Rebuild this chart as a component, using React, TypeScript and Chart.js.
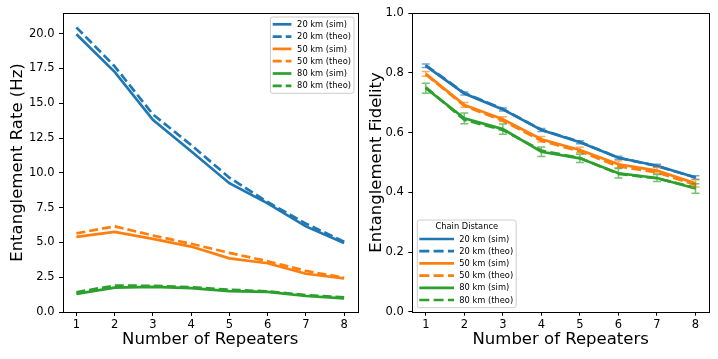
import React, { useEffect, useRef } from 'react';
import { Chart, registerables } from 'chart.js';

Chart.register(...registerables);

// ---------------- data ----------------
const REPEATERS = [1, 2, 3, 4, 5, 6, 7, 8];
const X_TICK_LABELS = ['1', '2', '3', '4', '5', '6', '7', '8'];

const RATE_20_SIM = [19.95, 17.25, 13.8, 11.55, 9.25, 7.8, 6.15, 4.95];
const RATE_20_THEO = [20.45, 17.65, 14.2, 12.0, 9.65, 7.9, 6.35, 5.05];
const RATE_50_SIM = [5.4, 5.75, 5.25, 4.7, 3.85, 3.5, 2.75, 2.42];
const RATE_50_THEO = [5.65, 6.15, 5.5, 4.9, 4.25, 3.65, 2.95, 2.47];
const RATE_80_SIM = [1.3, 1.75, 1.8, 1.72, 1.5, 1.45, 1.15, 0.98];
const RATE_80_THEO = [1.42, 1.9, 1.88, 1.78, 1.6, 1.48, 1.22, 1.05];

const FID_20_SIM = [0.824, 0.731, 0.678, 0.609, 0.568, 0.516, 0.489, 0.45];
const FID_20_THEO = [0.826, 0.733, 0.679, 0.61, 0.569, 0.516, 0.488, 0.45];
const FID_50_SIM = [0.797, 0.693, 0.645, 0.578, 0.542, 0.494, 0.473, 0.43];
const FID_50_THEO = [0.795, 0.69, 0.64, 0.573, 0.537, 0.487, 0.467, 0.425];
const FID_80_SIM = [0.749, 0.648, 0.612, 0.536, 0.514, 0.464, 0.448, 0.413];
const FID_80_THEO = [0.752, 0.643, 0.609, 0.54, 0.515, 0.462, 0.447, 0.415];

const FID_20_ERR = [0.006, 0.005, 0.005, 0.005, 0.005, 0.005, 0.005, 0.006];
const FID_50_ERR = [0.008, 0.008, 0.008, 0.009, 0.009, 0.012, 0.01, 0.012];
const FID_80_ERR = [0.017, 0.018, 0.017, 0.016, 0.014, 0.016, 0.012, 0.016];

const RATE_Y_TICKS = [0, 2.5, 5, 7.5, 10, 12.5, 15, 17.5, 20];
const RATE_Y_LABELS = ['0.0', '2.5', '5.0', '7.5', '10.0', '12.5', '15.0', '17.5', '20.0'];
const FID_Y_TICKS = [0, 0.2, 0.4, 0.6, 0.8, 1.0];
const FID_Y_LABELS = ['0.0', '0.2', '0.4', '0.6', '0.8', '1.0'];

const SERIES_LABELS = ['20 km (sim)', '20 km (theo)', '50 km (sim)', '50 km (theo)', '80 km (sim)', '80 km (theo)'];
const LEGEND_TITLE_RIGHT = 'Chain Distance';

// ---------------- styles ----------------
const FONT = 'DejaVu Sans';
const BLUE = '#1f77b4';
const ORANGE = '#ff7f0e';
const GREEN = '#2ca02c';
const SERIES_COLORS = [BLUE, BLUE, ORANGE, ORANGE, GREEN, GREEN];
const LINE_W = 2.7;

type LegendCfg = {
  corner: 'tr' | 'bl';
  marginX: number;
  marginY: number;
  title?: string;
  titleY?: number;
  firstRow: number;
  rowH: number;
  padB: number;
  lineX0: number;
  lineX1: number;
  textX: number;
  padR: number;
  dash: number[];
  fontSize: number;
};

function pts(ys: number[]) {
  return REPEATERS.map((x, i) => ({ x, y: ys[i] }));
}

function makeDatasets(series: number[][], errors?: (number[] | null)[], dash: number[] = [9, 4]) {
  return series.map((ys, i) => ({
    label: SERIES_LABELS[i],
    data: pts(ys),
    borderColor: SERIES_COLORS[i],
    backgroundColor: SERIES_COLORS[i],
    borderWidth: LINE_W,
    borderDash: i % 2 === 1 ? dash : [],
    pointRadius: 0,
    tension: 0,
    fill: false,
    order: series.length - i,
    errors: errors ? errors[i] : null,
  }));
}

const errorBarPlugin = {
  id: 'errorBars',
  afterDatasetsDraw(chart: any) {
    const ctx = chart.ctx;
    const xs = chart.scales.x;
    const ys = chart.scales.y;
    chart.data.datasets.forEach((ds: any) => {
      if (!ds.errors) return;
      ctx.save();
      ctx.strokeStyle = ds.borderColor;
      ctx.globalAlpha = 0.65;
      ctx.lineWidth = 1.5;
      ds.data.forEach((p: any, j: number) => {
        const e = ds.errors[j];
        const x = xs.getPixelForValue(p.x);
        const y1 = ys.getPixelForValue(p.y - e);
        const y2 = ys.getPixelForValue(p.y + e);
        ctx.beginPath();
        ctx.moveTo(x, y1);
        ctx.lineTo(x, y2);
        ctx.moveTo(x - 4, y1);
        ctx.lineTo(x + 4, y1);
        ctx.moveTo(x - 4, y2);
        ctx.lineTo(x + 4, y2);
        ctx.stroke();
      });
      ctx.restore();
    });
  },
};

const framePlugin = {
  id: 'frame',
  afterDatasetsDraw(chart: any) {
    const { ctx, chartArea } = chart;
    ctx.save();
    ctx.strokeStyle = '#000';
    ctx.lineWidth = 1;
    ctx.strokeRect(
      Math.round(chartArea.left) + 0.5,
      Math.round(chartArea.top) + 0.5,
      Math.round(chartArea.right) - Math.round(chartArea.left),
      Math.round(chartArea.bottom) - Math.round(chartArea.top)
    );
    ctx.restore();
  },
};

function makeLegendPlugin(cfg: LegendCfg) {
  return {
    id: 'customLegend',
    afterDraw(chart: any) {
      const { ctx, chartArea } = chart;
      const items = chart.data.datasets;
      ctx.save();
      ctx.font = `${cfg.fontSize}px "${FONT}"`;
      let textW = 0;
      items.forEach((d: any) => {
        textW = Math.max(textW, ctx.measureText(d.label).width);
      });
      const w = cfg.textX + textW + cfg.padR;
      const h = cfg.firstRow + (items.length - 1) * cfg.rowH + cfg.padB;
      let left: number;
      let top: number;
      if (cfg.corner === 'tr') {
        left = chartArea.right - cfg.marginX - w;
        top = chartArea.top + cfg.marginY;
      } else {
        left = chartArea.left + cfg.marginX;
        top = chartArea.bottom - cfg.marginY - h;
      }
      ctx.beginPath();
      if ((ctx as any).roundRect) (ctx as any).roundRect(left, top, w, h, 2.5);
      else ctx.rect(left, top, w, h);
      ctx.fillStyle = 'rgba(255,255,255,0.8)';
      ctx.fill();
      ctx.strokeStyle = '#cccccc';
      ctx.lineWidth = 1;
      ctx.stroke();

      ctx.fillStyle = '#000';
      ctx.textBaseline = 'middle';
      if (cfg.title) {
        ctx.textAlign = 'center';
        ctx.fillText(cfg.title, left + w / 2, top + (cfg.titleY || 0));
      }
      ctx.textAlign = 'left';
      items.forEach((d: any, i: number) => {
        const y = top + cfg.firstRow + i * cfg.rowH;
        ctx.save();
        ctx.strokeStyle = d.borderColor;
        ctx.lineWidth = LINE_W;
        ctx.setLineDash(i % 2 === 1 ? cfg.dash : []);
        ctx.beginPath();
        ctx.moveTo(left + cfg.lineX0, y);
        ctx.lineTo(left + cfg.lineX1, y);
        ctx.stroke();
        ctx.restore();
        ctx.fillStyle = '#000';
        ctx.fillText(d.label, left + cfg.textX, y + 0.5);
      });
      ctx.restore();
    },
  };
}

function baseOptions(opts: {
  padTop: number;
  padRight: number;
  yWidth: number;
  xHeight: number;
  yMin: number;
  yMax: number;
  yTicks: number[];
  yLabels: string[];
  yTitle: string;
  yTitlePad: number;
}) {
  const tickFont = { family: FONT, size: 11.5 };
  const titleFont = { family: FONT, size: 16.5 };
  return {
    responsive: false,
    animation: false,
    devicePixelRatio: 1,
    layout: { padding: { top: opts.padTop, right: opts.padRight, left: 0, bottom: 0 } },
    plugins: { legend: { display: false }, tooltip: { enabled: false } },
    scales: {
      x: {
        type: 'linear',
        min: 0.65,
        max: 8.35,
        afterBuildTicks: (s: any) => {
          s.ticks = REPEATERS.map((v) => ({ value: v }));
        },
        afterFit: (s: any) => {
          s.height = opts.xHeight;
          s.paddingLeft = 0;
          s.paddingRight = 0;
        },
        ticks: {
          font: tickFont,
          color: '#000',
          padding: 2,
          maxRotation: 0,
          autoSkip: false,
          callback: (v: number) => X_TICK_LABELS[REPEATERS.indexOf(v)] ?? '',
        },
        grid: { display: true, drawOnChartArea: false, drawTicks: true, tickLength: 4, color: '#000', lineWidth: 1 },
        border: { display: false },
        title: { display: true, text: 'Number of Repeaters', font: titleFont, color: '#000', padding: { top: 0, bottom: 9 } },
      },
      y: {
        type: 'linear',
        min: opts.yMin,
        max: opts.yMax,
        afterBuildTicks: (s: any) => {
          s.ticks = opts.yTicks.map((v) => ({ value: v }));
        },
        afterFit: (s: any) => {
          s.width = opts.yWidth;
          s.paddingTop = 0;
          s.paddingBottom = 0;
        },
        ticks: {
          font: tickFont,
          color: '#000',
          padding: 4.5,
          autoSkip: false,
          callback: (v: number) => {
            const idx = opts.yTicks.findIndex((t) => Math.abs(t - v) < 1e-9);
            return idx >= 0 ? opts.yLabels[idx] : '';
          },
        },
        grid: { display: true, drawOnChartArea: false, drawTicks: true, tickLength: 4, color: '#000', lineWidth: 1 },
        border: { display: false },
        title: { display: true, text: opts.yTitle, font: titleFont, color: '#000', padding: { top: opts.yTitlePad, bottom: 0 } },
      },
    },
  };
}

function RateChart() {
  const ref = useRef<HTMLCanvasElement>(null);
  useEffect(() => {
    if (!ref.current) return;
    const chart = new Chart(ref.current, {
      type: 'line',
      data: {
        datasets: makeDatasets(
          [RATE_20_SIM, RATE_20_THEO, RATE_50_SIM, RATE_50_THEO, RATE_80_SIM, RATE_80_THEO],
          undefined,
          [9, 4]
        ) as any,
      },
      options: baseOptions({
        padTop: 13,
        padRight: 2.5,
        yWidth: 63,
        xHeight: 47,
        yMin: 0,
        yMax: 21.48,
        yTicks: RATE_Y_TICKS,
        yLabels: RATE_Y_LABELS,
        yTitle: 'Entanglement Rate (Hz)',
        yTitlePad: 7.5,
      }) as any,
      plugins: [
        framePlugin,
        makeLegendPlugin({
          corner: 'tr',
          marginX: 3.5,
          marginY: 4,
          firstRow: 7.3,
          rowH: 12.3,
          padB: 7.5,
          lineX0: 2.3,
          lineX1: 21,
          textX: 26.7,
          padR: 3,
          dash: [9, 4],
          fontSize: 8.3,
        }),
      ],
    });
    return () => chart.destroy();
  }, []);
  return <canvas ref={ref} width={360} height={359} style={{ display: 'block' }} />;
}

function FidelityChart() {
  const ref = useRef<HTMLCanvasElement>(null);
  useEffect(() => {
    if (!ref.current) return;
    const chart = new Chart(ref.current, {
      type: 'line',
      data: {
        datasets: makeDatasets(
          [FID_20_SIM, FID_20_THEO, FID_50_SIM, FID_50_THEO, FID_80_SIM, FID_80_THEO],
          [FID_20_ERR, null, FID_50_ERR, null, FID_80_ERR, null],
          [10, 4.3]
        ) as any,
      },
      options: baseOptions({
        padTop: 13.3,
        padRight: 9,
        yWidth: 52.3,
        xHeight: 47.3,
        yMin: 0,
        yMax: 1.0,
        yTicks: FID_Y_TICKS,
        yLabels: FID_Y_LABELS,
        yTitle: 'Entanglement Fidelity',
        yTitlePad: 7,
      }) as any,
      plugins: [
        errorBarPlugin,
        framePlugin,
        makeLegendPlugin({
          corner: 'bl',
          marginX: 5,
          marginY: 4,
          title: LEGEND_TITLE_RIGHT,
          titleY: 6.7,
          firstRow: 19,
          rowH: 12.2,
          padB: 7.7,
          lineX0: 2,
          lineX1: 36.7,
          textX: 42,
          padR: 3,
          dash: [10, 4.3],
          fontSize: 8.3,
        }),
      ],
    });
    return () => chart.destroy();
  }, []);
  return <canvas ref={ref} width={358} height={359} style={{ display: 'block' }} />;
}

export default function App() {
  return (
    <div style={{ position: 'absolute', left: 0, top: 0, width: 718, height: 359, background: '#fff', overflow: 'hidden' }}>
      <div style={{ position: 'absolute', left: 0, top: 0, width: 360, height: 359 }}>
        <RateChart />
      </div>
      <div style={{ position: 'absolute', left: 360, top: 0, width: 358, height: 359 }}>
        <FidelityChart />
      </div>
    </div>
  );
}
